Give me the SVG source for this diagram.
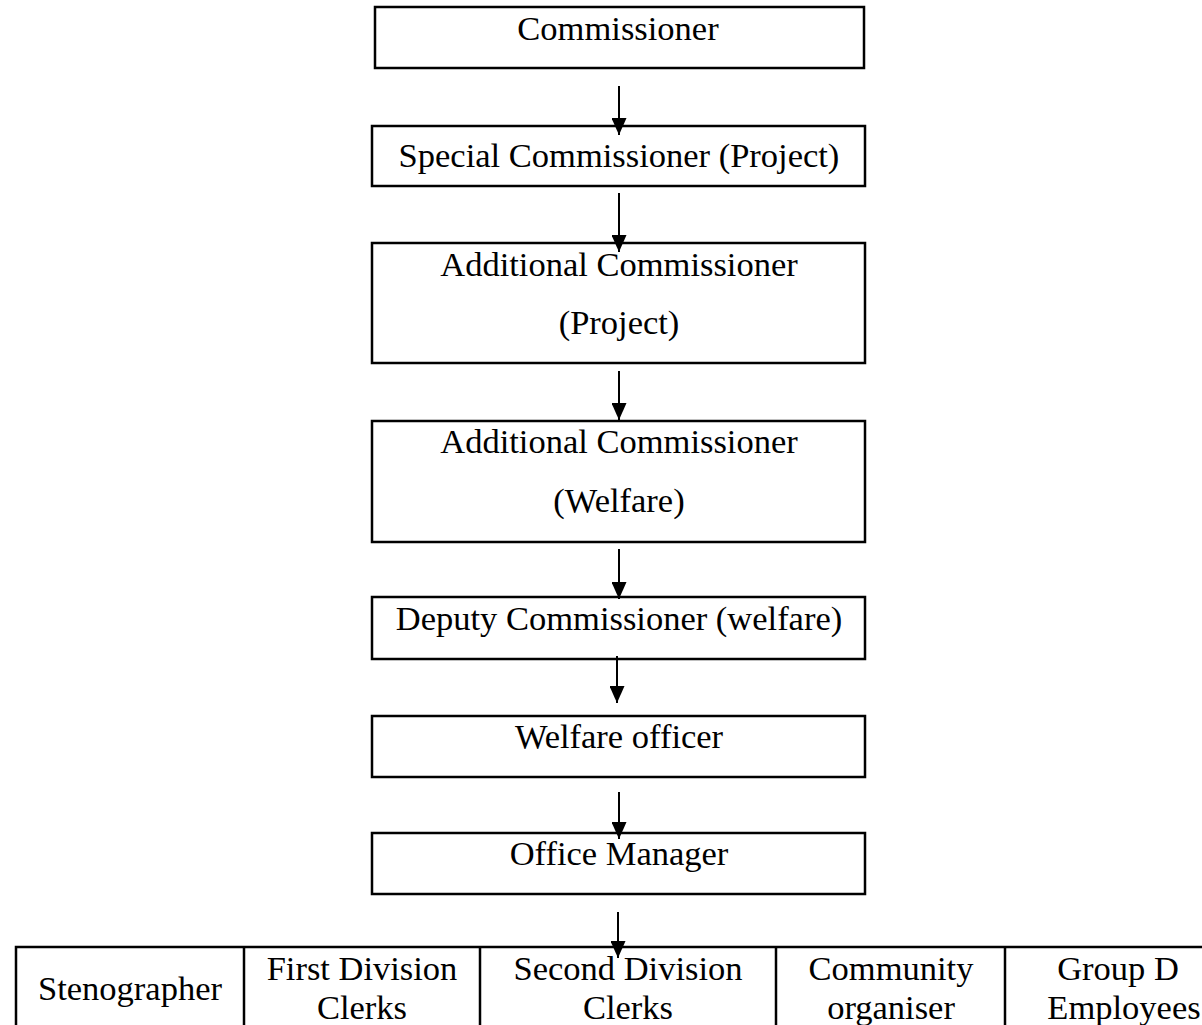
<svg xmlns="http://www.w3.org/2000/svg" width="1202" height="1025" viewBox="0 0 1202 1025">
<style>
.box{fill:#fff;stroke:#000;stroke-width:2.5}
.t{font-family:"Liberation Serif","Times New Roman",serif;font-size:34.5px;fill:#000;text-anchor:middle}
.c{stroke:#000;stroke-width:2;fill:none;marker-end:url(#ah)}
.cell{fill:none;stroke:#000;stroke-width:2.5}
</style>
<defs>
<marker id="ah" markerUnits="userSpaceOnUse" markerWidth="17" markerHeight="15" refX="17" refY="7.5" orient="auto" viewBox="0 0 17 15">
<path d="M0,0 L17,7.5 L0,15 z" fill="#000"/>
</marker>
</defs>
<rect width="1202" height="1025" fill="#fff"/>
<g id="n1"><rect class="box" x="375" y="7" width="489" height="61"/><text class="t" x="618" y="40">Commissioner</text></g>
<g id="n2"><rect class="box" x="372" y="126" width="493" height="60"/><text class="t" x="619" y="167">Special Commissioner (Project)</text></g>
<g id="n3"><rect class="box" x="372" y="243" width="493" height="120"/><text class="t" x="619" y="276">Additional Commissioner</text><text class="t" x="619" y="334">(Project)</text></g>
<g id="n4"><rect class="box" x="372" y="421" width="493" height="121"/><text class="t" x="619" y="453">Additional Commissioner</text><text class="t" x="619" y="512">(Welfare)</text></g>
<g id="n5"><rect class="box" x="372" y="597" width="493" height="62"/><text class="t" x="619" y="630">Deputy Commissioner (welfare)</text></g>
<g id="n6"><rect class="box" x="372" y="716" width="493" height="61"/><text class="t" x="619" y="748">Welfare officer</text></g>
<g id="n7"><rect class="box" x="372" y="833" width="493" height="61"/><text class="t" x="619" y="865">Office Manager</text></g>
<g id="table">
<rect class="cell" x="16" y="947" width="1220" height="100"/>
<line class="cell" x1="244" y1="947" x2="244" y2="1025"/>
<line class="cell" x1="480" y1="947" x2="480" y2="1025"/>
<line class="cell" x1="776" y1="947" x2="776" y2="1025"/>
<line class="cell" x1="1005" y1="947" x2="1005" y2="1025"/>
</g>
<g id="n8"><text class="t" x="130" y="1000">Stenographer</text></g>
<g id="n9"><text class="t" x="362" y="980">First Division</text><text class="t" x="362" y="1019">Clerks</text></g>
<g id="n10"><text class="t" x="628" y="980">Second Division</text><text class="t" x="628" y="1019">Clerks</text></g>
<g id="n11"><text class="t" x="891" y="980">Community</text><text class="t" x="891" y="1019">organiser</text></g>
<g id="n12"><text class="t" x="1118" y="980">Group D</text><text class="t" x="1124" y="1019">Employees</text></g>
<g id="connectors">
<line class="c" x1="619" y1="86" x2="619" y2="135"/>
<line class="c" x1="619" y1="193" x2="619" y2="252"/>
<line class="c" x1="619" y1="371" x2="619" y2="420"/>
<line class="c" x1="619" y1="549" x2="619" y2="599"/>
<line class="c" x1="617" y1="656" x2="617" y2="703"/>
<line class="c" x1="619" y1="792" x2="619" y2="839"/>
<line class="c" x1="618" y1="912" x2="618" y2="958"/>
</g>
</svg>
